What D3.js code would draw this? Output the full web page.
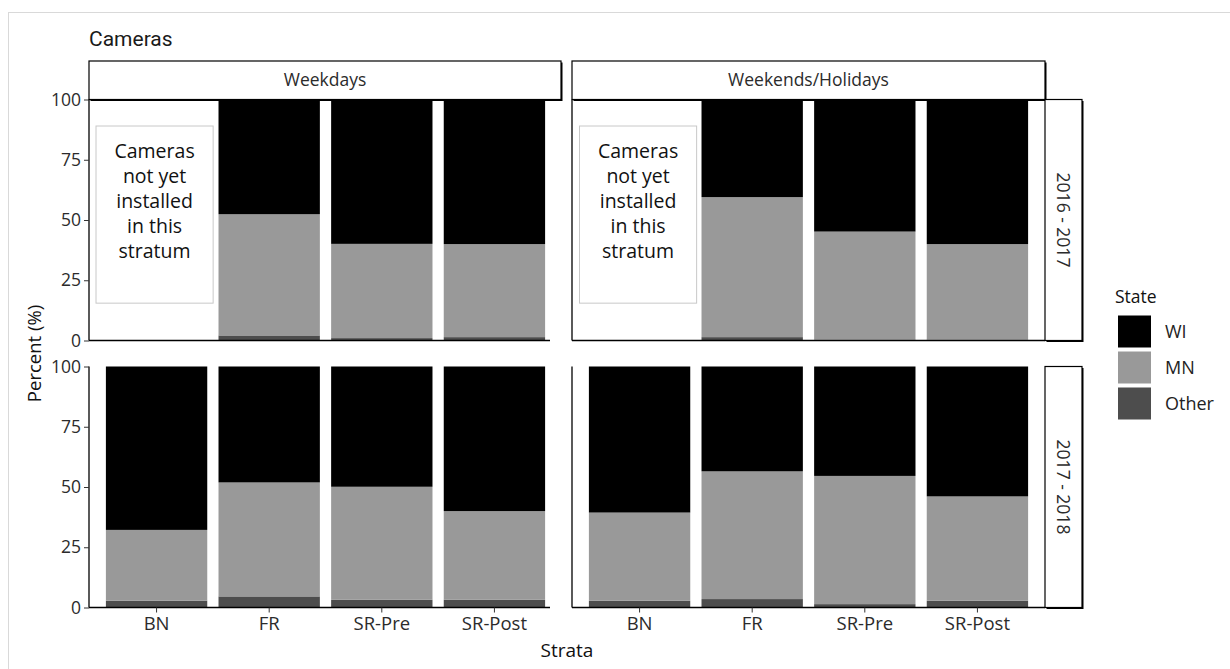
<!DOCTYPE html>
<html>
<head>
<meta charset="utf-8">
<script src="https://cdn.jsdelivr.net/npm/d3@7"></script>
<style>
  html, body { margin: 0; padding: 0; background: #fff; }
  svg { display: block; font-family: "Open Sans", "Noto Sans", sans-serif; }
</style>
</head>
<body>
<svg id="chart" width="1230" height="669"></svg>
<script>
// ---------------- data ----------------
const strata = ["BN", "FR", "SR-Pre", "SR-Post"];
const dayTypes = ["Weekdays", "Weekends/Holidays"];
const seasons = ["2016 - 2017", "2017 - 2018"];
const states = ["WI", "MN", "Other"];
const yTicks = [0, 25, 50, 75, 100];
const noteText = ["Cameras", "not yet", "installed", "in this", "stratum"];

// percent by state, per stratum (BN, FR, SR-Pre, SR-Post); null = no data
const wd1617_WI    = [null, 47.6, 59.9, 60.0];
const wd1617_MN    = [null, 50.3, 39.1, 38.6];
const wd1617_Other = [null, 2.1, 1.0, 1.4];

const we1617_WI    = [null, 40.5, 54.8, 60.0];
const we1617_MN    = [null, 58.1, 44.9, 39.7];
const we1617_Other = [null, 1.4, 0.3, 0.3];

const wd1718_WI    = [67.8, 48.1, 49.9, 60.0];
const wd1718_MN    = [29.4, 47.3, 46.9, 36.8];
const wd1718_Other = [2.8, 4.6, 3.2, 3.2];

const we1718_WI    = [60.6, 43.5, 45.4, 53.9];
const we1718_MN    = [36.6, 53.0, 53.2, 43.3];
const we1718_Other = [2.8, 3.5, 1.4, 2.8];

const panelData = [
  { row: 0, col: 0, WI: wd1617_WI, MN: wd1617_MN, Other: wd1617_Other },
  { row: 0, col: 1, WI: we1617_WI, MN: we1617_MN, Other: we1617_Other },
  { row: 1, col: 0, WI: wd1718_WI, MN: wd1718_MN, Other: wd1718_Other },
  { row: 1, col: 1, WI: we1718_WI, MN: we1718_MN, Other: we1718_Other }
];

const colors = { WI: "#000000", MN: "#999999", Other: "#4d4d4d" };

// ---------------- layout ----------------
const svg = d3.select("#chart");
const colX = [89, 572];
const panelW = 473;
const rowY = [99.5, 366.5];
const panelH = 241;
const stripH = 38.5;
const stripTop = rowY[0] - stripH;
const rStripX = colX[1] + panelW;
const rStripW = 37;
const textCol = "#2b2b2b";

// outer light border
svg.append("rect").attr("x", 8.5).attr("y", 12.5).attr("width", 1240).attr("height", 700)
  .attr("fill", "none").attr("stroke", "#d9d9d9").attr("stroke-width", 1);

// title
svg.append("text").attr("x", colX[0]).attr("y", 46)
  .attr("font-size", 21).attr("font-family", "Roboto, sans-serif").attr("fill", "#1a1a1a").text("Cameras");

const x = d3.scaleBand().domain(strata).range([0, panelW]).paddingInner(0.1).paddingOuter(0.15);
const y = d3.scaleLinear().domain([0, 100]).range([panelH, 0]);

const stack = d3.stack().keys(["Other", "MN", "WI"]);

panelData.forEach(p => {
  const g = svg.append("g").attr("transform", `translate(${colX[p.col]},${rowY[p.row]})`);
  const rows = strata.map((s, i) => ({ stratum: s, WI: p.WI[i], MN: p.MN[i], Other: p.Other[i] }))
    .filter(d => d.WI !== null);
  const series = stack(rows);
  series.forEach(ser => {
    g.selectAll(null).data(ser).enter().append("rect")
      .attr("x", d => x(d.data.stratum))
      .attr("width", x.bandwidth())
      .attr("y", d => y(d[1]))
      .attr("height", d => y(d[0]) - y(d[1]))
      .attr("fill", colors[ser.key]);
  });

  // annotation for missing stratum
  strata.forEach((s, i) => {
    if (p.WI[i] === null) {
      const cx = x(s) + x.bandwidth() / 2 - (p.col === 0 ? 2 : 1.5);
      const halfW = x.step() * 0.52;
      g.append("rect").attr("x", cx - halfW).attr("width", halfW * 2)
        .attr("y", y(89)).attr("height", y(15.5) - y(89))
        .attr("fill", "#fff").attr("stroke", "#c8c8c8").attr("stroke-width", 1);
      const t = g.append("text").attr("text-anchor", "middle").attr("font-size", 19.5).attr("fill", "#111");
      noteText.forEach((line, k) => {
        t.append("tspan").attr("x", cx).attr("y", y(78.4) + k * 25).attr("dy", "0.35em").text(line);
      });
    }
  });

  // left axis line on every panel
  g.append("line").attr("x1", 0).attr("x2", 0).attr("y1", 0).attr("y2", panelH)
    .attr("stroke", "#000").attr("stroke-width", 1.3);
  // bottom axis line
  g.append("line").attr("x1", 0).attr("x2", panelW - (p.col === 0 ? 12 : 0)).attr("y1", panelH).attr("y2", panelH)
    .attr("stroke", "#000").attr("stroke-width", 1.3);

  if (p.col === 0) {
    const ya = d3.axisLeft(y).tickValues(yTicks).tickSize(5).tickPadding(3);
    const ag = g.append("g").call(ya);
    ag.select(".domain").remove();
    ag.selectAll(".tick line").attr("stroke", "#333");
    ag.selectAll(".tick text").attr("font-size", 17.5).attr("fill", textCol).attr("font-family", "Open Sans, sans-serif");
  }
  if (p.row === 1) {
    const xa = d3.axisBottom(x).tickSize(5).tickPadding(4);
    const ag = g.append("g").attr("transform", `translate(0,${panelH})`).call(xa);
    ag.select(".domain").remove();
    ag.selectAll(".tick line").attr("stroke", "#333");
    ag.selectAll(".tick text").attr("font-size", 18.5).attr("fill", textCol).attr("font-family", "Open Sans, sans-serif");
  }
});

// strips with slight drop shadow
function stripBox(x0, y0, w, h) {
  svg.append("rect").attr("x", x0 + 1.5).attr("y", y0 + 1.5).attr("width", w).attr("height", h).attr("fill", "#000");
  svg.append("rect").attr("x", x0).attr("y", y0).attr("width", w).attr("height", h)
    .attr("fill", "#fff").attr("stroke", "#000").attr("stroke-width", 1.2);
}
dayTypes.forEach((dt, i) => {
  const w = i === 0 ? 472 : panelW;
  stripBox(colX[i], stripTop, w, stripH);
  svg.append("text").attr("x", colX[i] + w / 2).attr("y", stripTop + stripH / 2).attr("dy", "0.35em")
    .attr("text-anchor", "middle").attr("font-size", 17.5).attr("fill", textCol).text(dt);
});
seasons.forEach((s, i) => {
  stripBox(rStripX, rowY[i], rStripW, panelH);
  const cx = rStripX + rStripW / 2, cy = rowY[i] + panelH / 2;
  svg.append("text").attr("transform", `translate(${cx},${cy}) rotate(90)`).attr("dy", "0.35em")
    .attr("text-anchor", "middle").attr("font-size", 17.5).attr("fill", textCol).text(s);
});

// axis titles
svg.append("text").attr("transform", `translate(35,${(rowY[0] + rowY[1] + panelH) / 2}) rotate(-90)`)
  .attr("dy", "0.35em").attr("text-anchor", "middle").attr("font-size", 18.5).attr("fill", "#111").text("Percent (%)");
svg.append("text").attr("x", (colX[0] + colX[1] + panelW) / 2).attr("y", 657)
  .attr("text-anchor", "middle").attr("font-size", 19).attr("fill", "#111").text("Strata");

// legend
const lg = svg.append("g").attr("transform", "translate(1115,0)");
lg.append("text").attr("x", 0).attr("y", 303).attr("font-size", 17.5).attr("fill", "#111").text("State");
states.forEach((s, i) => {
  const ky = 315.5 + i * 36;
  lg.append("rect").attr("x", 3).attr("y", ky).attr("width", 33).attr("height", 32).attr("fill", colors[s]);
  lg.append("text").attr("x", 50).attr("y", ky + 16).attr("dy", "0.35em").attr("font-size", 18)
    .attr("fill", "#222").text(s);
});
</script>
</body>
</html>
